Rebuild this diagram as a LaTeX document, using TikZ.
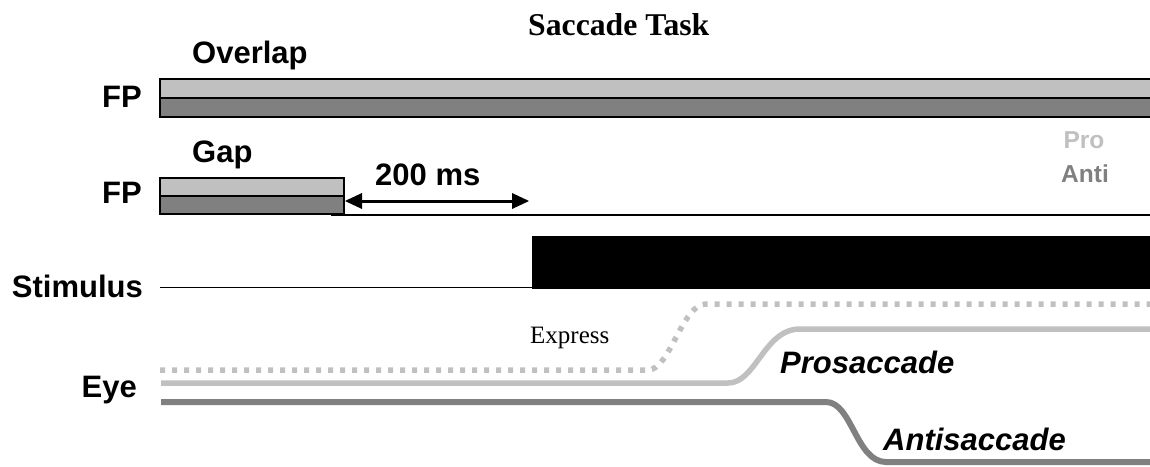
\documentclass[tikz,border=0pt]{standalone}
\usepackage{fontspec}
\setmainfont{Liberation Serif}
\setsansfont{Liberation Sans}
\usetikzlibrary{arrows.meta}
\usetikzlibrary{calc}
\definecolor{lightgr}{HTML}{C0C0C0}
\definecolor{darkgr}{HTML}{808080}

\tikzset{
  rowlbl/.style={font=\sffamily\bfseries\fontsize{31}{31}\selectfont, inner sep=0pt},
  tracelbl/.style={font=\sffamily\bfseries\itshape\fontsize{31}{31}\selectfont, inner sep=0pt, anchor=base west},
  keylbl/.style={font=\sffamily\bfseries\fontsize{24.5}{24.5}\selectfont, inner sep=0pt, anchor=base},
  barline/.style={draw=black, line width=2pt},
  protrace/.style={lightgr, line width=5.5pt},
  antitrace/.style={darkgr, line width=6pt},
  expresstrace/.style={lightgr, line width=5.5pt, dash pattern=on 5pt off 7pt},
  delayarrow/.style={line width=3pt, >={Triangle[length=17pt,width=16pt,line width=0pt]}, <->}
}

\begin{document}
\begin{tikzpicture}[x=1pt, y=-1pt]
    \useasboundingbox (0,0) rectangle (1150,466);

    \node[font=\bfseries\fontsize{31.7}{31.7}\selectfont, inner sep=0pt, anchor=base west] (title) at (528,35) {Saccade Task};

    % overlap condition
    \node[rowlbl, anchor=base west] (overlap) at (192,63) {Overlap};
    \node[rowlbl, anchor=base east] (fpA) at (142,107) {FP};
    \draw[barline, fill=lightgr] (160,79) rectangle (1160,98);
    \draw[barline, fill=darkgr] (160,98) rectangle (1160,117);

    % gap condition
    \node[rowlbl, anchor=base west] (gap) at (192,162) {Gap};
    \node[rowlbl, anchor=base east] (fpB) at (142,203) {FP};
    \draw[black, line width=1.5pt] (331,215) -- (1160,215);
    \draw[barline, fill=lightgr] (160,178) rectangle (344,196);
    \draw[barline, fill=darkgr] (160,196) rectangle (344,214);

    \coordinate (gapoff) at (345,201);
    \coordinate (stimon) at (529,201);
    \draw[delayarrow] (gapoff) -- (stimon);
    \node[rowlbl, anchor=base west] (delay) at (375,185) {200 ms};

    \node[keylbl, lightgr] (pro) at (1084,148) {Pro};
    \node[keylbl, darkgr] (anti) at (1085,182) {Anti};

    % stimulus
    \node[rowlbl, anchor=base east] (stim) at (143,297) {Stimulus};
    \draw[black, line width=1.3pt] (160,287.5) -- (533,287.5);
    \fill[black] (532,236) rectangle (1160,289);

    % eye traces
    \node[rowlbl, anchor=base east] (eye) at (137,397) {Eye};
    \draw[expresstrace] (160,370) -- (648,370) .. controls (670,370) and (682,304) .. (706,304) -- (1155,304);
    \draw[protrace] (161,383) -- (728,383) .. controls (756,383) and (764,329) .. (800,329) -- (1155,329);
    \draw[antitrace] (161,402) -- (826,402) .. controls (852,402) and (856,462) .. (886,462) -- (1155,462);

    \node[font=\fontsize{25}{25}\selectfont, inner sep=0pt, anchor=base west] (express) at (530,343) {Express};
    \node[tracelbl] (prosacc) at (780,373) {Prosaccade};
    \node[tracelbl] (antisacc) at (883,450) {Antisaccade};
\end{tikzpicture}
\end{document}
